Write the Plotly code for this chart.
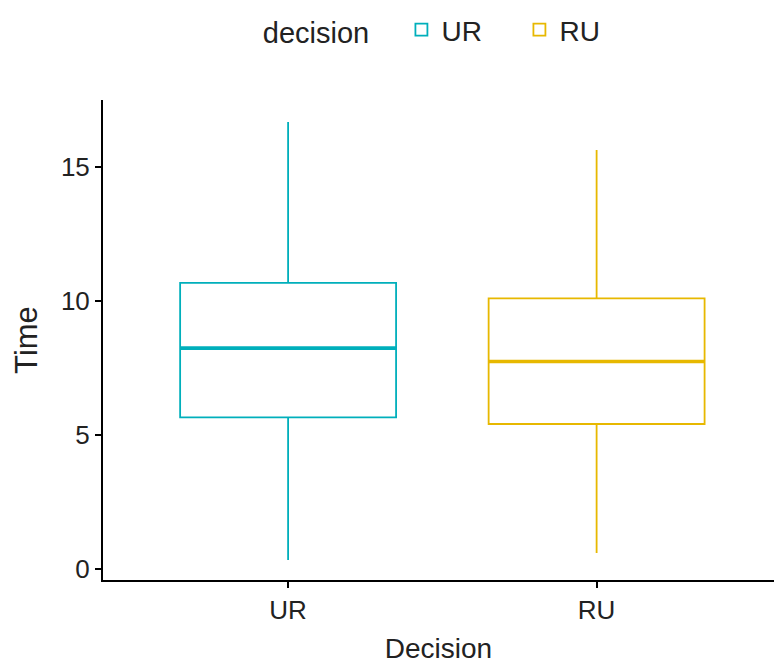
import plotly.graph_objects as go

# Summary statistics of decision time per group
decisions = ["UR", "RU"]
colors = ["#00AFBB", "#E7B800"]
lower_whisker = [0.34, 0.60]
q1 = [5.66, 5.41]
median = [8.24, 7.74]
q3 = [10.68, 10.10]
upper_whisker = [16.68, 15.63]

box_width = 0.7
font_family = "Liberation Sans, Arial, sans-serif"
ink = "#222222"
tick_font = dict(family=font_family, size=26, color=ink)
xtitle_font = dict(family=font_family, size=28, color=ink)
ytitle_font = dict(family=font_family, size=31, color=ink)
legend_font = dict(family=font_family, size=28, color=ink)
legend_title_font = dict(family=font_family, size=29, color=ink)

fig = go.Figure()
for i, d in enumerate(decisions):
    fig.add_trace(go.Box(
        name=d,
        x=[d],
        q1=[q1[i]],
        median=[median[i]],
        q3=[q3[i]],
        lowerfence=[lower_whisker[i]],
        upperfence=[upper_whisker[i]],
        width=box_width,
        whiskerwidth=0,
        line=dict(color=colors[i], width=1.8),
        fillcolor="rgba(255,255,255,0)",
        boxpoints=False,
        legendgroup=d,
    ))
    # thicker median line, as in ggplot boxplots
    fig.add_shape(
        type="line", xref="x", yref="y",
        x0=i - box_width / 2, x1=i + box_width / 2,
        y0=median[i], y1=median[i],
        line=dict(color=colors[i], width=3.6),
    )

fig.update_layout(
    width=774, height=666,
    margin=dict(l=103, r=0, t=100, b=86, autoexpand=False),
    plot_bgcolor="white", paper_bgcolor="white",
    font=tick_font,
    showlegend=True,
    legend=dict(
        orientation="h", x=0.337, xref="container", xanchor="left",
        y=0.955, yref="container", yanchor="middle",
        title=dict(text="decision   ", side="left", font=legend_title_font),
        font=legend_font, itemwidth=30,
        entrywidth=73, entrywidthmode="pixels",
    ),
    xaxis=dict(
        title=dict(text="Decision", standoff=14, font=xtitle_font),
        tickfont=tick_font,
        type="category", range=[-0.6, 1.575],
        showline=True, linecolor="black", linewidth=2,
        ticks="outside", ticklen=6, tickwidth=1.5, tickcolor="black",
        showgrid=False, zeroline=False,
    ),
    yaxis=dict(
        title=dict(text="Time", standoff=14, font=ytitle_font),
        tickfont=tick_font,
        range=[-0.41, 17.5],
        tickvals=[0, 5, 10, 15],
        showline=True, linecolor="black", linewidth=2,
        ticks="outside", ticklen=6, tickwidth=1.5, tickcolor="black",
        showgrid=False, zeroline=False,
    ),
)

fig.write_html("out.html")
